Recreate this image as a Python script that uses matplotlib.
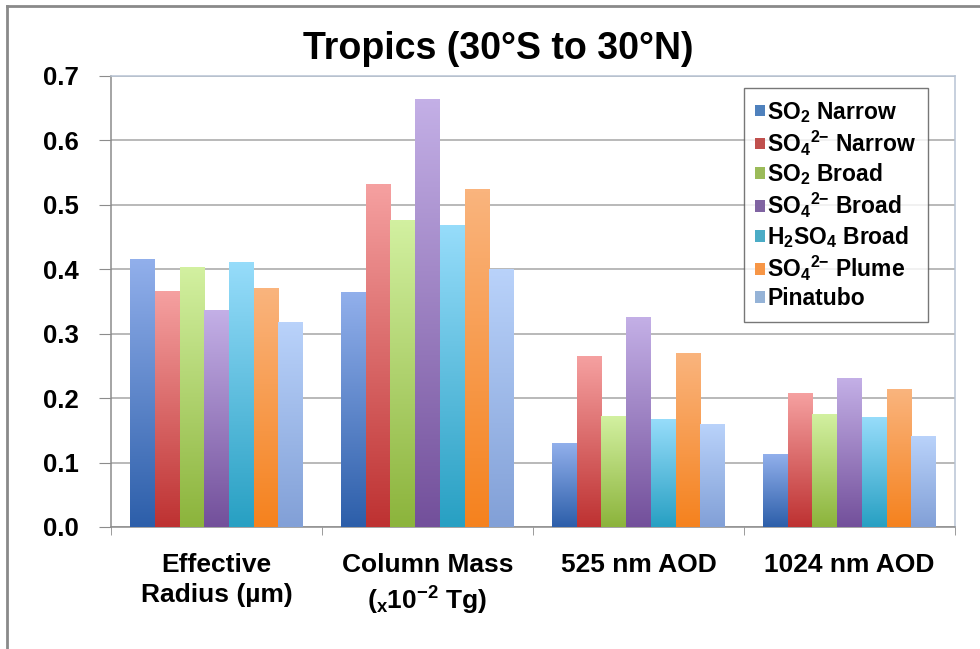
import numpy as np
import matplotlib
matplotlib.use("Agg")
import matplotlib.pyplot as plt
from matplotlib.colors import to_rgb
from matplotlib.patches import Patch
from matplotlib.lines import Line2D

plt.rcParams['font.family'] = ['Liberation Sans', 'DejaVu Sans']
plt.rcParams['font.weight'] = 'bold'
plt.rcParams['mathtext.fontset'] = 'custom'
plt.rcParams['mathtext.rm'] = 'Liberation Sans:bold'
plt.rcParams['mathtext.bf'] = 'Liberation Sans:bold'
plt.rcParams['mathtext.it'] = 'Liberation Sans:bold'

# data
categories = ['Effective\nRadius (µm)', 'Column Mass\n($_\\mathregular{x}$10$^{{-}2}$ Tg)', '525 nm AOD', '1024 nm AOD']
series_names = [r'SO$_2$ Narrow', r'SO$_4$$^{2{-}}$ Narrow', r'SO$_2$ Broad', r'SO$_4$$^{2{-}}$ Broad',
                r'H$_2$SO$_4$ Broad', r'SO$_4$$^{2{-}}$ Plume', 'Pinatubo']
so2_narrow = [0.415, 0.364, 0.130, 0.112]
so4_narrow = [0.365, 0.531, 0.265, 0.207]
so2_broad = [0.403, 0.475, 0.171, 0.174]
so4_broad = [0.336, 0.664, 0.325, 0.230]
h2so4_broad = [0.411, 0.468, 0.167, 0.170]
so4_plume = [0.370, 0.524, 0.269, 0.214]
pinatubo = [0.318, 0.400, 0.159, 0.140]
series_values = [so2_narrow, so4_narrow, so2_broad, so4_broad, h2so4_broad, so4_plume, pinatubo]
y_ticks = [0.0, 0.1, 0.2, 0.3, 0.4, 0.5, 0.6, 0.7]

# gradient colours (bottom, top) and legend swatch
bottom_colors = ['#2D5FAA', '#BE3232', '#8CB43C', '#73509B', '#28A0C3', '#F5821E', '#82A0D7']
top_colors = ['#91AFEB', '#F5A0A0', '#D2F0A0', '#C3AFE6', '#96DCFA', '#FAB47D', '#B9D2FA']
swatch_colors = ['#4F81BD', '#C0504D', '#9BBB59', '#8064A2', '#4BACC6', '#F79646', '#95B3D7']


def gradient_image(c_bottom, c_top, n=64):
    b = np.array(to_rgb(c_bottom))
    t = np.array(to_rgb(c_top))
    f = np.linspace(0, 1, n)[:, None]
    img = b + (t - b) * f
    return img[:, None, :]


fig = plt.figure(figsize=(9.8, 6.49), dpi=100)
ax = fig.add_axes([0.1133, 0.188, 0.8612, 0.6949])

x = np.arange(len(categories))
bar_w = 0.117
for i, vals in enumerate(series_values):
    bars = ax.bar(x + (i - 3) * bar_w, vals, bar_w, color='none', linewidth=0, zorder=3)
    img = gradient_image(bottom_colors[i], top_colors[i])
    for p in bars.patches:
        x0, y0 = p.get_x(), p.get_y()
        ax.imshow(img, extent=[x0, x0 + p.get_width(), y0, y0 + p.get_height()],
                  origin='lower', aspect='auto', interpolation='bilinear', zorder=3)

ax.set_xlim(-0.5, 3.5)
ax.set_ylim(0, 0.7)
ax.set_yticks(y_ticks)
ax.set_yticklabels(['%.1f' % v for v in y_ticks], fontsize=18.5, fontweight='bold')
ax.set_xticks(x)
ax.set_xticklabels(categories, fontsize=19, fontweight='bold', linespacing=1.3)
ax.set_xticks(np.arange(-0.5, 4.0, 1.0), minor=True)
ax.tick_params(axis='x', which='major', length=0, pad=19)
ax.tick_params(axis='x', which='minor', length=6, color='#8C8C8C', direction='out')
ax.tick_params(axis='y', length=9, color='#8C8C8C', direction='out', pad=14)

ax.grid(axis='y', color='#A6A6A6', linewidth=1.1, zorder=0)
ax.set_axisbelow(True)
for side in ['left', 'bottom']:
    ax.spines[side].set_color('#8C8C8C')
    ax.spines[side].set_linewidth(1.1)
for side in ['top', 'right']:
    ax.spines[side].set_color('#B8C4D4')
    ax.spines[side].set_linewidth(1.1)

handles = [Patch(facecolor=c, edgecolor='none') for c in swatch_colors]
leg = ax.legend(handles, series_names, loc='upper right', bbox_to_anchor=(0.947, 0.864),
                bbox_transform=fig.transFigure, prop={'weight': 'bold', 'size': 16.5},
                frameon=True, fancybox=False, handlelength=0.42, handleheight=0.42,
                handletextpad=0.12, labelspacing=0.17, borderpad=0.5, borderaxespad=0)
leg.get_frame().set_edgecolor('#555555')
leg.get_frame().set_linewidth(1.0)
leg.set_zorder(5)

fig.suptitle('Tropics (30°S to 30°N)', x=0.508, y=0.953, fontsize=27, fontweight='bold')

# outer chart frame (left and top edges visible)
fig.add_artist(Line2D([7 / 980, 7 / 980], [0, 1 - 6 / 649], transform=fig.transFigure,
                      color='#8A8A8A', linewidth=2))
fig.add_artist(Line2D([7 / 980, 1], [1 - 6 / 649, 1 - 6 / 649], transform=fig.transFigure,
                      color='#8A8A8A', linewidth=2))

fig.savefig('out.png', dpi=100)
